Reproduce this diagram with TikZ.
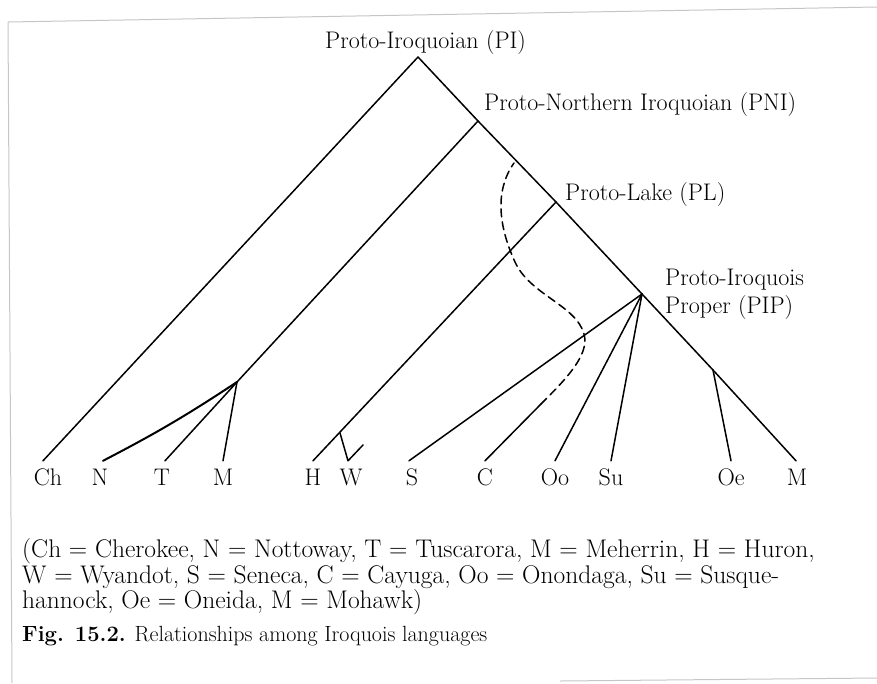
\documentclass[tikz,border=0pt]{standalone}
\usetikzlibrary{positioning}

\begin{document}
\begin{tikzpicture}[x=1pt, y=-1pt,
    branch/.style={line width=1.5pt, line cap=round, line join=round},
    lang/.style={font=\fontsize{24}{28}\selectfont, inner xsep=1pt, inner ysep=8pt,
                 text height=16pt, text depth=0pt, anchor=base},
    proto/.style={font=\fontsize{24}{28}\selectfont, align=left, inner sep=0pt, anchor=base west},
    note/.style={font=\fontsize{25.5}{30}\selectfont, inner sep=0pt, anchor=base west},
    edge/.style={gray!45, line width=1pt}]

\useasboundingbox (0,0) rectangle (877,683);

% page edge of the scan
\draw[edge] (8,22) -- (877,7);
\draw[edge] (8,22) -- (12,683);
\draw[edge] (560,681) -- (877,678);

% branching points
\coordinate (pi) at (418,57);
\coordinate (pni) at (478,121);
\coordinate (pl) at (556,202);
\coordinate (pip) at (642,294);
\coordinate (nsub) at (237,382);
\coordinate (wsub) at (340,433);
\coordinate (wtip) at (363,445);
\coordinate (oesub) at (713,370);
\coordinate (cbreak) at (541,404);
\coordinate (ctop) at (514,163);

% proto-languages
\node[proto] (piname) at (325,48) {Proto-Iroquoian (PI)};
\node[proto] (pniname) at (484,110) {Proto-Northern Iroquoian (PNI)};
\node[proto] (plname) at (565,200) {Proto-Lake (PL)};
\node[proto] (pipname) at (665,313) {Proto-Iroquois\\Proper (PIP)};

% languages
\node[lang] (ch) at (48,485) {Ch};
\node[lang] (n) at (100,485) {N};
\node[lang] (t) at (162,485) {T};
\node[lang] (me) at (223,485) {M};
\node[lang] (h) at (313,485) {H};
\node[lang] (w) at (351,485) {W};
\node[lang] (s) at (412,485) {S};
\node[lang] (c) at (485,485) {C};
\node[lang] (oo) at (555,485) {Oo};
\node[lang] (su) at (611,485) {Su};
\node[lang] (oe) at (731,485) {Oe};
\node[lang] (mo) at (797,485) {M};

% tree
\draw[branch] ([xshift=-5pt]ch.north) -- (pi) -- (pni) -- (pl) -- (pip) -- (oesub) -- ([xshift=-1pt]mo.north);
\draw[branch] (pni) -- (nsub);
\draw[branch, line width=2pt] (nsub) to[bend left=3] ([xshift=3pt]n.north);
\draw[branch] (nsub) -- ([xshift=3pt]t.north);
\draw[branch] (nsub) -- (me.north);
\draw[branch] (pl) -- (h.north);
\draw[branch] (wsub) -- ([xshift=-3pt]w.north) -- (wtip);
\draw[branch] (pip) -- ([xshift=-3pt]s.north);
\draw[branch] (pip) -- (oo.north);
\draw[branch] (pip) -- (su.north);
\draw[branch] (oesub) -- (oe.north);
\draw[branch] (c.north) -- (cbreak);
\draw[branch, dashed, dash pattern=on 8pt off 5pt] (cbreak)
    .. controls (565,380) and (590,355) .. (584,334)
    .. controls (576,305) and (530,295) .. (515,262)
    .. controls (498,225) and (495,190) .. (ctop);

% caption
\node[note] (key1) at (22,557) {(Ch = Cherokee, N = Nottoway, T = Tuscarora, M = Meherrin, H = Huron,};
\node[note] (key2) at (22,583) {W = Wyandot, S = Seneca, C = Cayuga, Oo = Onondaga, Su = Susque-};
\node[note] (key3) at (22,608) {hannock, Oe = Oneida, M = Mohawk)};
\node[note, font=\fontsize{22}{26}\selectfont] (fig) at (22,641) {\textbf{Fig. 15.2.} Relationships among Iroquois languages};
\end{tikzpicture}
\end{document}
